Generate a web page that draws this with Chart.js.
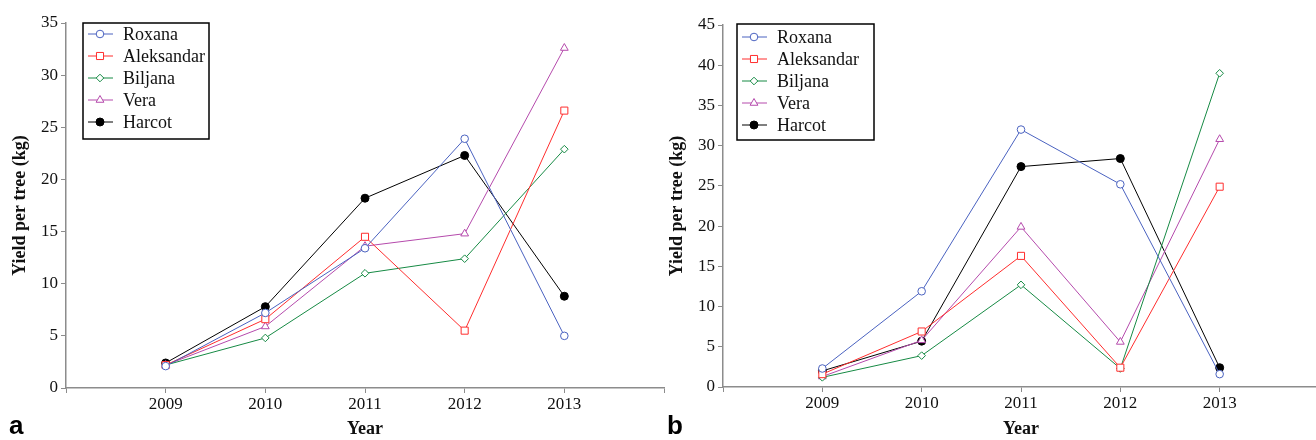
<!DOCTYPE html>
<html lang="en">
<head>
<meta charset="UTF-8">
<title>Yield per tree</title>
<script src="https://cdn.jsdelivr.net/npm/chart.js"></script>
<style>
  html, body { margin: 0; padding: 0; background: #fff; overflow: hidden; width: 1316px; height: 440px; position: relative; }
  canvas { position: absolute; top: 0; }
  #chartA { left: 0; }
  #chartB { left: 660px; }
  .tag { position: absolute; top: 410px; font: bold 26px "Liberation Sans", Arial, sans-serif; color: #000; }
</style>
</head>
<body>
<canvas id="chartA" width="670" height="440"></canvas>
<canvas id="chartB" width="665" height="440"></canvas>
<div class="tag" style="left:9px">a</div>
<div class="tag" style="left:667px">b</div>

<script>
  const years = [2009, 2010, 2011, 2012, 2013];
  const cultivars = ["Roxana", "Aleksandar", "Biljana", "Vera", "Harcot"];

  // panel a
  const roxanaA     = [2.1, 7.2, 13.4, 23.9, 5.0];
  const aleksandarA = [2.2, 6.6, 14.5, 5.5, 26.6];
  const biljanaA    = [2.2, 4.8, 11.0, 12.4, 22.9];
  const veraA       = [2.2, 5.9, 13.6, 14.8, 32.6];
  const harcotA     = [2.4, 7.8, 18.2, 22.3, 8.8];

  // panel b
  const roxanaB     = [2.3, 11.9, 32.0, 25.2, 1.6];
  const aleksandarB = [1.6, 6.9, 16.3, 2.4, 24.9];
  const biljanaB    = [1.2, 3.9, 12.7, 2.3, 39.0];
  const veraB       = [1.3, 5.8, 19.9, 5.6, 30.8];
  const harcotB     = [2.0, 5.7, 27.4, 28.4, 2.4];

  const colors = ["#4a62c0", "#ff2d2d", "#168a44", "#b54aac", "#000000"];
  const fills  = ["#ffffff", "#ffffff", "#ffffff", "#ffffff", "#000000"];
  const styles = ["circle", "rect", "rectRot", "triangle", "circle"];
  const radii  = [3.8, 5, 3.8, 4.5, 4];

  const axisGray = "#8c8c8c";
  const serif = "'Liberation Serif', 'Times New Roman', serif";

  // bordered legend box drawn on the canvas
  const boxLegend = {
    id: "boxLegend",
    afterDraw(chart, args, opts) {
      const ctx = chart.ctx;
      ctx.save();
      ctx.lineWidth = 1.5;
      ctx.strokeStyle = "#000";
      ctx.strokeRect(opts.x, opts.y, opts.w, opts.h);
      ctx.font = "18px " + serif;
      ctx.textBaseline = "middle";
      chart.data.datasets.forEach((ds, i) => {
        const cy = opts.y + opts.first + i * opts.step;
        ctx.strokeStyle = ds.borderColor;
        ctx.lineWidth = 1;
        ctx.beginPath();
        ctx.moveTo(opts.x + 5, cy);
        ctx.lineTo(opts.x + 30, cy);
        ctx.stroke();
        ctx.fillStyle = ds.pointBackgroundColor;
        Chart.helpers.drawPoint(ctx, { pointStyle: ds.pointStyle, radius: ds.pointRadius, borderWidth: 1, rotation: 0 }, opts.x + 17, cy);
        ctx.fillStyle = "#111";
        ctx.fillText(ds.label, opts.x + 40, cy + 1);
      });
      ctx.restore();
    }
  };

  function makeChart(id, series, yMax, padTop, yWidth, xHeight, titlePad, legendBox) {
    return new Chart(document.getElementById(id), {
      type: "line",
      data: {
        datasets: cultivars.map((name, i) => ({
          label: name,
          data: years.map((yr, j) => ({ x: yr, y: series[i][j] })),
          borderColor: colors[i],
          backgroundColor: fills[i],
          pointBackgroundColor: fills[i],
          pointBorderColor: colors[i],
          pointStyle: styles[i],
          pointRadius: radii[i],
          pointBorderWidth: 1,
          borderWidth: 1,
          tension: 0
        }))
      },
      options: {
        responsive: false,
        animation: false,
        layout: { padding: { top: padTop, right: id === "chartA" ? 2 : 0, left: 0, bottom: 0 } },
        plugins: {
          legend: { display: false },
          tooltip: { enabled: false },
          boxLegend: legendBox
        },
        scales: {
          x: {
            type: "linear",
            min: 2008,
            max: 2014,
            afterFit: s => { s.height = xHeight; },
            grid: { drawOnChartArea: false, color: axisGray, tickLength: 5 },
            border: { color: axisGray, width: 1.5 },
            ticks: {
              stepSize: 1,
              padding: 1,
              color: "#111",
              font: { family: serif, size: 17 },
              callback: v => (v >= 2009 && v <= 2013) ? String(v) : ""
            },
            title: { display: true, text: "Year", color: "#111", font: { family: serif, size: 18, weight: "bold" }, padding: 0 }
          },
          y: {
            min: 0,
            max: yMax,
            afterFit: s => { s.width = yWidth; },
            grid: { drawOnChartArea: false, color: axisGray, tickLength: 5 },
            border: { color: axisGray, width: 1.5 },
            ticks: { stepSize: 5, padding: 3, color: "#111", font: { family: serif, size: 17 } },
            title: { display: true, text: "Yield per tree (kg)", color: "#111", font: { family: serif, size: 18, weight: "bold" }, padding: { top: titlePad, bottom: 0 } }
          }
        }
      },
      plugins: [boxLegend]
    });
  }

  makeChart("chartA", [roxanaA, aleksandarA, biljanaA, veraA, harcotA], 35, 23, 66, 52, 10,
    { x: 83, y: 23, w: 126, h: 116, first: 11, step: 22 });
  makeChart("chartB", [roxanaB, aleksandarB, biljanaB, veraB, harcotB], 45, 25, 63, 53, 7,
    { x: 77, y: 24, w: 137, h: 116, first: 13, step: 22 });
</script>
</body>
</html>
